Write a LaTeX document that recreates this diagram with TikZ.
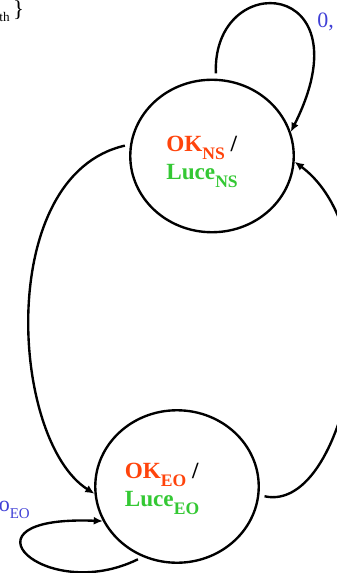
\documentclass[tikz,border=0pt]{standalone}
\usepackage{fontspec}
\setmainfont{Liberation Serif}
\usetikzlibrary{arrows.meta,shapes.geometric}
\definecolor{okred}{RGB}{255,68,12}
\definecolor{lucegreen}{RGB}{52,200,52}
\definecolor{lblblue}{RGB}{64,64,214}
\newcommand{\stsub}[1]{\raisebox{-4.3pt}{\fontsize{10}{10}\selectfont #1}}
\newcommand{\lbsub}[1]{\raisebox{-3.6pt}{\fontsize{8.5}{9}\selectfont #1}}
\begin{document}
\begin{tikzpicture}[x=0.02cm,y=-0.02cm,
  state/.style={ellipse,draw,line width=1.35pt,minimum width=3.27cm,minimum height=3.05cm,inner sep=0pt},
  sttext/.style={align=left,inner sep=0pt,font=\fontsize{13.2}{15.9}\selectfont\bfseries},
  trans/.style={line width=1.35pt,-{Latex[length=5.2pt,width=4.6pt]},shorten <=3pt},
  lbl/.style={text=lblblue,inner sep=0pt,font=\fontsize{12.5}{14}\selectfont}]
\clip (0,0) rectangle (337,573);
\node[state] (NS) at (212,156) {};
\node[state] (EO) at (177,486.5) {};
\node[sttext] (NStxt) at (202,162) {\textcolor{okred}{OK\stsub{NS}} /\\\textcolor{lucegreen}{Luce\stsub{NS}}};
\node[sttext] (EOtxt) at (162,489) {\textcolor{okred}{OK\stsub{EO}} /\\\textcolor{lucegreen}{Luce\stsub{EO}}};
\node[lbl,anchor=base west] (lblNS) at (317,28) {0,};
\node[lbl,anchor=base west] (lblEO) at (-1.5,511.7) {o\lbsub{EO}};
\node[anchor=base west,inner sep=0pt] (lblth) at (-1,21.7) {{\fontsize{7.5}{8}\selectfont th}\hspace{2pt}\raisebox{3.2pt}{\fontsize{13}{14}\selectfont\}}};
\draw[trans] (NS.87) .. controls (212,-32) and (368,-22) .. (NS.17);
\draw[trans] (NS.172) .. controls (-5,175) and (10,440) .. (EO.185);
\draw[trans] (EO.-6) .. controls (350,515) and (400,240) .. (NS.-4);
\draw[trans] (EO.244) .. controls (45,605) and (-50,515) .. (EO.205);
\end{tikzpicture}
\end{document}
